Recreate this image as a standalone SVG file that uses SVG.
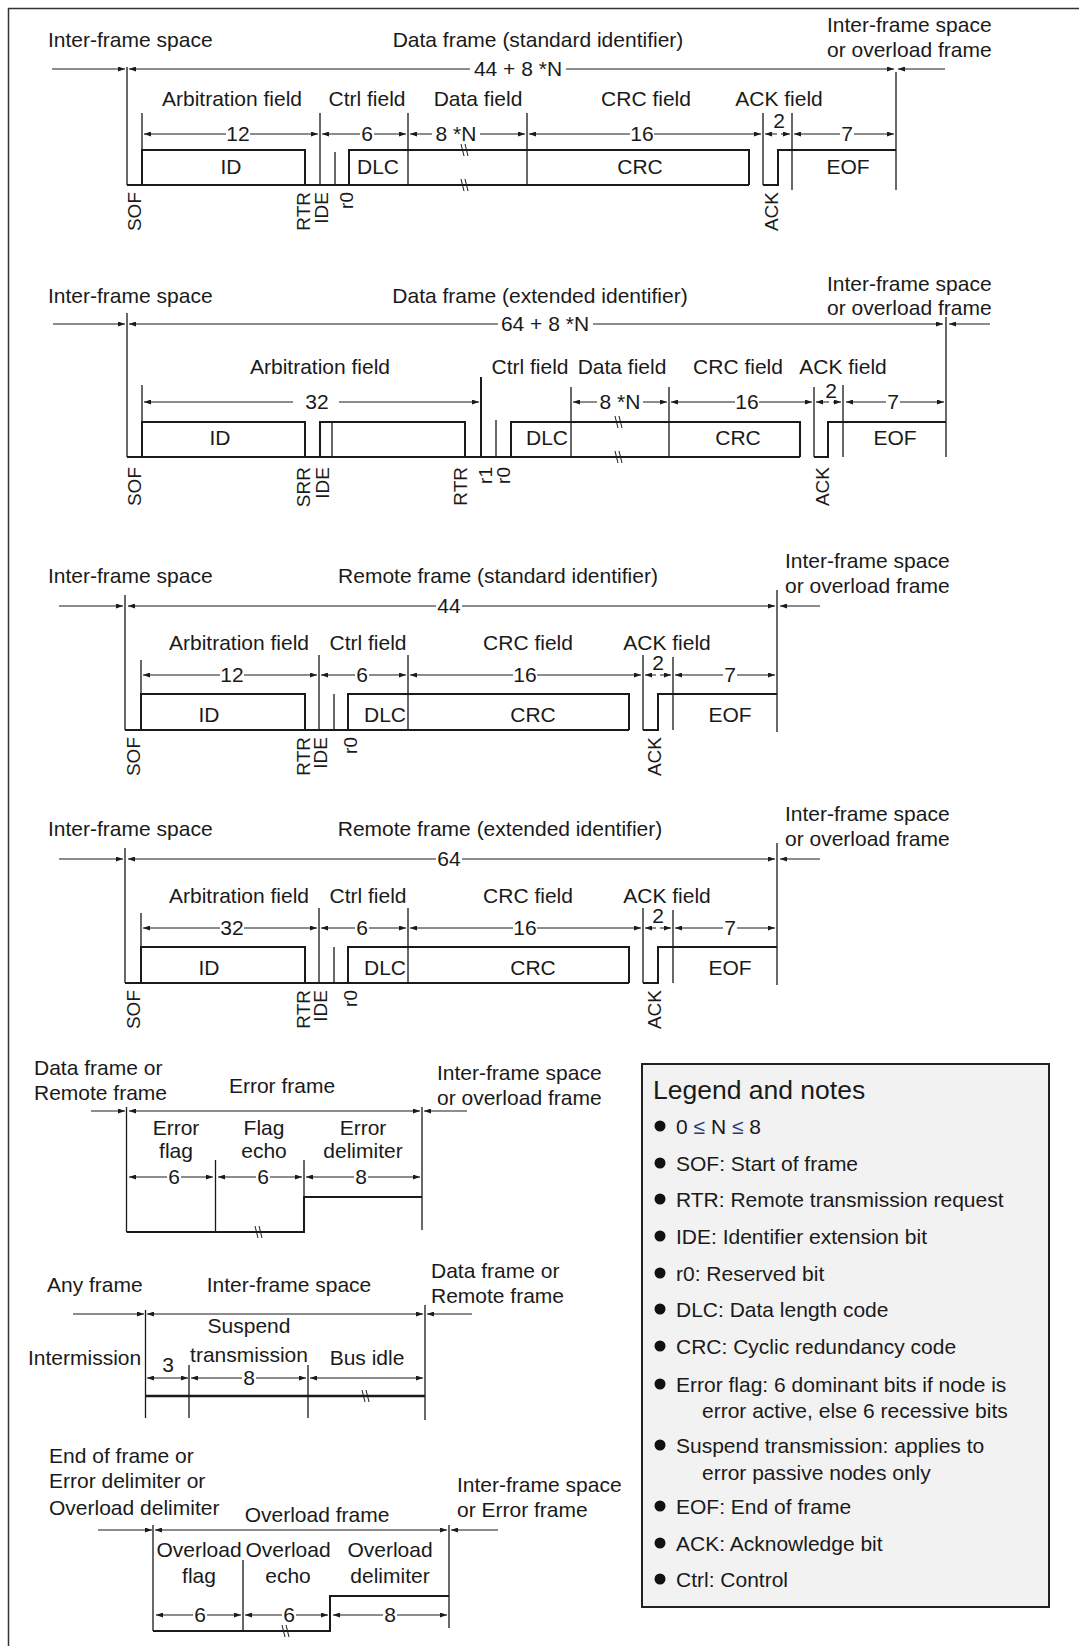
<svg xmlns="http://www.w3.org/2000/svg" width="1079" height="1646" viewBox="0 0 1079 1646">
<style>
text{font-family:"Liberation Sans",Arial,sans-serif;font-size:21px;fill:#1a1a1a}
.c{text-anchor:middle}
.r{font-size:19px;text-anchor:end}
.sig{stroke:#1a1a1a;stroke-width:2;fill:none}
.tk{stroke:#1a1a1a;stroke-width:1.3;fill:none}
.dim{stroke:#1a1a1a;stroke-width:1;fill:none;marker-end:url(#ah)}
.brk{stroke:#1a1a1a;stroke-width:1;fill:none}
.lt{font-size:26.5px}
.bul{fill:#111}
.leq{fill:#1f3d7a}
</style>
<defs>
<marker id="ah" markerUnits="userSpaceOnUse" markerWidth="7" markerHeight="5" refX="7" refY="2.5" orient="auto">
<path d="M0,0 L7,2.5 L0,5 z" fill="#1a1a1a"/>
</marker>
</defs>
<rect width="1079" height="1646" fill="#fff"/>
<rect x="8.5" y="8.5" width="1200" height="1700" fill="none" stroke="#333" stroke-width="1.5"/>

<g id="data-frame-standard">
<text x="48" y="47">Inter-frame space</text>
<text x="538" y="47" class="c">Data frame (standard identifier)</text>
<text x="827" y="32">Inter-frame space</text>
<text x="827" y="57">or overload frame</text>
<text x="518" y="76" class="c">44 + 8 *N</text>
<text x="232" y="106" class="c">Arbitration field</text>
<text x="367" y="106" class="c">Ctrl field</text>
<text x="478" y="106" class="c">Data field</text>
<text x="646" y="106" class="c">CRC field</text>
<text x="779" y="106" class="c">ACK field</text>
<text x="238" y="141" class="c">12</text>
<text x="367" y="141" class="c">6</text>
<text x="456" y="141" class="c">8 *N</text>
<text x="642" y="141" class="c">16</text>
<text x="779" y="128" class="c">2</text>
<text x="847" y="141" class="c">7</text>
<text x="231" y="174" class="c">ID</text>
<text x="378" y="174" class="c">DLC</text>
<text x="640" y="174" class="c">CRC</text>
<text x="848" y="174" class="c">EOF</text>
<text class="r" transform="translate(141,192) rotate(-90)">SOF</text>
<text class="r" transform="translate(310,192) rotate(-90)">RTR</text>
<text class="r" transform="translate(328,192) rotate(-90)">IDE</text>
<text class="r" transform="translate(353,192) rotate(-90)">r0</text>
<text class="r" transform="translate(778,192) rotate(-90)">ACK</text>
<path class="sig" d="M127,185 H749 M142,185 V150 H305 V185 M349,185 V150 H749 V185 M763,185 H778 V150 H896"/>
<path class="tk" d="M127,67 V185 M142,113 V150 M320,113 V185 M335,152 V185 M408,113 V185 M527,113 V185 M763,113 V185 M792,113 V190 M896,72 V190"/>
<path class="brk" d="M461,144 L464,156 M465,144 L468,156 M461,179 L464,191 M465,179 L468,191"/>
</g>

<g id="data-frame-extended">
<text x="48" y="303">Inter-frame space</text>
<text x="540" y="303" class="c">Data frame (extended identifier)</text>
<text x="827" y="291">Inter-frame space</text>
<text x="827" y="315">or overload frame</text>
<text x="545" y="331" class="c">64 + 8 *N</text>
<text x="320" y="374" class="c">Arbitration field</text>
<text x="530" y="374" class="c">Ctrl field</text>
<text x="622" y="374" class="c">Data field</text>
<text x="738" y="374" class="c">CRC field</text>
<text x="843" y="374" class="c">ACK field</text>
<text x="317" y="409" class="c">32</text>
<text x="620" y="409" class="c">8 *N</text>
<text x="747" y="409" class="c">16</text>
<text x="831" y="398" class="c">2</text>
<text x="893" y="409" class="c">7</text>
<text x="220" y="445" class="c">ID</text>
<text x="547" y="445" class="c">DLC</text>
<text x="738" y="445" class="c">CRC</text>
<text x="895" y="445" class="c">EOF</text>
<text class="r" transform="translate(141,467) rotate(-90)">SOF</text>
<text class="r" transform="translate(310,467) rotate(-90)">SRR</text>
<text class="r" transform="translate(329,467) rotate(-90)">IDE</text>
<text class="r" transform="translate(467,467) rotate(-90)">RTR</text>
<text class="r" transform="translate(492,467) rotate(-90)">r1</text>
<text class="r" transform="translate(510,467) rotate(-90)">r0</text>
<text class="r" transform="translate(829,467) rotate(-90)">ACK</text>
<path class="sig" d="M127,457 H800 M142,457 V422 H305 V457 M320,457 V422 H465 V457 M511,457 V422 H800 V457 M814,457 H828 V422 H946"/>
<path class="tk" d="M127,313 V457 M142,385 V422 M332,422 V457 M496,420 V457 M571,387 V457 M669,387 V457 M814,387 V457 M843,385 V457 M946,317 V457"/>
<path class="sig" d="M481,377 V457"/>
<path class="brk" d="M615,416 L618,428 M619,416 L622,428 M615,451 L618,463 M619,451 L622,463"/>
</g>

<g id="remote-frame-standard">
<text x="48" y="583">Inter-frame space</text>
<text x="498" y="583" class="c">Remote frame (standard identifier)</text>
<text x="785" y="568">Inter-frame space</text>
<text x="785" y="593">or overload frame</text>
<text x="449" y="613" class="c">44</text>
<text x="239" y="650" class="c">Arbitration field</text>
<text x="368" y="650" class="c">Ctrl field</text>
<text x="528" y="650" class="c">CRC field</text>
<text x="667" y="650" class="c">ACK field</text>
<text x="232" y="682" class="c">12</text>
<text x="362" y="682" class="c">6</text>
<text x="525" y="682" class="c">16</text>
<text x="658" y="670" class="c">2</text>
<text x="730" y="682" class="c">7</text>
<text x="209" y="722" class="c">ID</text>
<text x="385" y="722" class="c">DLC</text>
<text x="533" y="722" class="c">CRC</text>
<text x="730" y="722" class="c">EOF</text>
<text class="r" transform="translate(140,737) rotate(-90)">SOF</text>
<text class="r" transform="translate(310,737) rotate(-90)">RTR</text>
<text class="r" transform="translate(327,737) rotate(-90)">IDE</text>
<text class="r" transform="translate(357,737) rotate(-90)">r0</text>
<text class="r" transform="translate(661,737) rotate(-90)">ACK</text>
<path class="sig" d="M125,730 H629 M141,730 V694 H305 V730 M348,730 V694 H629 V730 M643,730 H658 V694 H777"/>
<path class="tk" d="M125,595 V730 M141,660 V694 M319,655 V730 M334,694 V730 M408,655 V730 M643,655 V730 M673,657 V730 M777,590 V732"/>
</g>

<g id="remote-frame-extended" transform="translate(0,253)">
<text x="48" y="583">Inter-frame space</text>
<text x="500" y="583" class="c">Remote frame (extended identifier)</text>
<text x="785" y="568">Inter-frame space</text>
<text x="785" y="593">or overload frame</text>
<text x="449" y="613" class="c">64</text>
<text x="239" y="650" class="c">Arbitration field</text>
<text x="368" y="650" class="c">Ctrl field</text>
<text x="528" y="650" class="c">CRC field</text>
<text x="667" y="650" class="c">ACK field</text>
<text x="232" y="682" class="c">32</text>
<text x="362" y="682" class="c">6</text>
<text x="525" y="682" class="c">16</text>
<text x="658" y="670" class="c">2</text>
<text x="730" y="682" class="c">7</text>
<text x="209" y="722" class="c">ID</text>
<text x="385" y="722" class="c">DLC</text>
<text x="533" y="722" class="c">CRC</text>
<text x="730" y="722" class="c">EOF</text>
<text class="r" transform="translate(140,737) rotate(-90)">SOF</text>
<text class="r" transform="translate(310,737) rotate(-90)">RTR</text>
<text class="r" transform="translate(327,737) rotate(-90)">IDE</text>
<text class="r" transform="translate(357,737) rotate(-90)">r0</text>
<text class="r" transform="translate(661,737) rotate(-90)">ACK</text>
<path class="sig" d="M125,730 H629 M141,730 V694 H305 V730 M348,730 V694 H629 V730 M643,730 H658 V694 H777"/>
<path class="tk" d="M125,595 V730 M141,660 V694 M319,655 V730 M334,694 V730 M408,655 V730 M643,655 V730 M673,657 V730 M777,590 V732"/>
</g>

<g id="error-frame">
<text x="34" y="1075">Data frame or</text>
<text x="34" y="1100">Remote frame</text>
<text x="282" y="1093" class="c">Error frame</text>
<text x="437" y="1080">Inter-frame space</text>
<text x="437" y="1105">or overload frame</text>
<text x="176" y="1135" class="c">Error</text>
<text x="176" y="1158" class="c">flag</text>
<text x="264" y="1135" class="c">Flag</text>
<text x="264" y="1158" class="c">echo</text>
<text x="363" y="1135" class="c">Error</text>
<text x="363" y="1158" class="c">delimiter</text>
<text x="174" y="1184" class="c">6</text>
<text x="263" y="1184" class="c">6</text>
<text x="361" y="1184" class="c">8</text>
<path class="sig" d="M126.5,1232 H304 V1197 H422"/>
<path class="tk" d="M126.5,1107 V1232 M215.5,1160 V1232 M304,1160 V1197 M422,1107 V1230"/>
<path class="brk" d="M255,1226 L258,1238 M259,1226 L262,1238"/>
</g>

<g id="inter-frame-space">
<text x="47" y="1292">Any frame</text>
<text x="289" y="1292" class="c">Inter-frame space</text>
<text x="431" y="1278">Data frame or</text>
<text x="431" y="1303">Remote frame</text>
<text x="249" y="1333" class="c">Suspend</text>
<text x="249" y="1362" class="c">transmission</text>
<text x="28" y="1365">Intermission</text>
<text x="168" y="1372" class="c">3</text>
<text x="367" y="1365" class="c">Bus idle</text>
<text x="249" y="1385" class="c">8</text>
<path class="sig" d="M145.5,1396 H425" style="stroke-width:2.5"/>
<path class="tk" d="M145.5,1310 V1418 M189,1365 V1418 M308,1365 V1418 M425,1305 V1420"/>
<path class="brk" d="M362,1390 L365,1402 M366,1390 L369,1402"/>
</g>

<g id="overload-frame">
<text x="49" y="1463">End of frame or</text>
<text x="49" y="1488">Error delimiter or</text>
<text x="49" y="1515">Overload delimiter</text>
<text x="317" y="1522" class="c">Overload frame</text>
<text x="457" y="1492">Inter-frame space</text>
<text x="457" y="1517">or Error frame</text>
<text x="199" y="1557" class="c">Overload</text>
<text x="288" y="1557" class="c">Overload</text>
<text x="390" y="1557" class="c">Overload</text>
<text x="199" y="1583" class="c">flag</text>
<text x="288" y="1583" class="c">echo</text>
<text x="390" y="1583" class="c">delimiter</text>
<text x="200" y="1622" class="c">6</text>
<text x="289" y="1622" class="c">6</text>
<text x="390" y="1622" class="c">8</text>
<path class="sig" d="M153,1631 H330 V1596 H449"/>
<path class="tk" d="M153,1525 V1631 M243,1560 V1631 M449,1525 V1628"/>
<path class="brk" d="M282,1625 L285,1637 M286,1625 L289,1637"/>
</g>

<g id="legend">
<rect x="642" y="1064" width="407" height="543" fill="#f2f2f2" stroke="#222" stroke-width="2"/>
<text x="653" y="1099" class="lt">Legend and notes</text>
<circle class="bul" cx="660" cy="1126" r="5.5"/>
<text x="676" y="1134">0 <tspan class="leq">≤</tspan> N <tspan class="leq">≤</tspan> 8</text>
<circle class="bul" cx="660" cy="1163" r="5.5"/>
<text x="676" y="1171">SOF: Start of frame</text>
<circle class="bul" cx="660" cy="1199" r="5.5"/>
<text x="676" y="1207">RTR: Remote transmission request</text>
<circle class="bul" cx="660" cy="1236" r="5.5"/>
<text x="676" y="1244">IDE: Identifier extension bit</text>
<circle class="bul" cx="660" cy="1273" r="5.5"/>
<text x="676" y="1281">r0: Reserved bit</text>
<circle class="bul" cx="660" cy="1309" r="5.5"/>
<text x="676" y="1317">DLC: Data length code</text>
<circle class="bul" cx="660" cy="1346" r="5.5"/>
<text x="676" y="1354">CRC: Cyclic redundancy code</text>
<circle class="bul" cx="660" cy="1384" r="5.5"/>
<text x="676" y="1392">Error flag: 6 dominant bits if node is</text>
<text x="702" y="1418">error active, else 6 recessive bits</text>
<circle class="bul" cx="660" cy="1445" r="5.5"/>
<text x="676" y="1453">Suspend transmission: applies to</text>
<text x="702" y="1480">error passive nodes only</text>
<circle class="bul" cx="660" cy="1506" r="5.5"/>
<text x="676" y="1514">EOF: End of frame</text>
<circle class="bul" cx="660" cy="1543" r="5.5"/>
<text x="676" y="1551">ACK: Acknowledge bit</text>
<circle class="bul" cx="660" cy="1579" r="5.5"/>
<text x="676" y="1587">Ctrl: Control</text>
</g>

<g id="connectors">
<path class="dim" d="M52,69 H125"/><path class="dim" d="M470,69 H129"/><path class="dim" d="M566,69 H894"/><path class="dim" d="M945,69 H898"/>
<path class="dim" d="M226,134 H144"/><path class="dim" d="M250,134 H318"/>
<path class="dim" d="M360,134 H322"/><path class="dim" d="M374,134 H406"/>
<path class="dim" d="M432,134 H410"/><path class="dim" d="M480,134 H525"/>
<path class="dim" d="M630,134 H529"/><path class="dim" d="M654,134 H761"/>
<path class="dim" d="M777,134 H765"/><path class="dim" d="M781,134 H790"/>
<path class="dim" d="M840,134 H794"/><path class="dim" d="M854,134 H894"/>

<path class="dim" d="M53,324 H125"/><path class="dim" d="M498,324 H129"/><path class="dim" d="M593,324 H943"/><path class="dim" d="M990,324 H949"/>
<path class="dim" d="M293,402 H144"/><path class="dim" d="M339,402 H479"/>
<path class="dim" d="M597,402 H573"/><path class="dim" d="M643,402 H667"/>
<path class="dim" d="M735,402 H671"/><path class="dim" d="M759,402 H812"/>
<path class="dim" d="M829,402 H816"/><path class="dim" d="M833,402 H841"/>
<path class="dim" d="M886,402 H846"/><path class="dim" d="M900,402 H944"/>

<path class="dim" d="M59,606 H123"/><path class="dim" d="M436,606 H128"/><path class="dim" d="M462,606 H775"/><path class="dim" d="M820,606 H780"/>
<path class="dim" d="M220,675 H143"/><path class="dim" d="M244,675 H317"/>
<path class="dim" d="M355,675 H321"/><path class="dim" d="M369,675 H406"/>
<path class="dim" d="M513,675 H410"/><path class="dim" d="M537,675 H641"/>
<path class="dim" d="M656,675 H645"/><path class="dim" d="M660,675 H671"/>
<path class="dim" d="M723,675 H675"/><path class="dim" d="M737,675 H775"/>

<path class="dim" d="M59,859 H123"/><path class="dim" d="M436,859 H128"/><path class="dim" d="M462,859 H775"/><path class="dim" d="M820,859 H780"/>
<path class="dim" d="M220,928 H143"/><path class="dim" d="M244,928 H317"/>
<path class="dim" d="M355,928 H321"/><path class="dim" d="M369,928 H406"/>
<path class="dim" d="M513,928 H410"/><path class="dim" d="M537,928 H641"/>
<path class="dim" d="M656,928 H645"/><path class="dim" d="M660,928 H671"/>
<path class="dim" d="M723,928 H675"/><path class="dim" d="M737,928 H775"/>

<path class="dim" d="M91,1111 H125"/><path class="dim" d="M275,1111 H129"/><path class="dim" d="M275,1111 H420"/><path class="dim" d="M467,1111 H424"/>
<path class="dim" d="M167,1177 H129"/><path class="dim" d="M181,1177 H213"/>
<path class="dim" d="M256,1177 H218"/><path class="dim" d="M270,1177 H302"/>
<path class="dim" d="M354,1177 H306"/><path class="dim" d="M368,1177 H420"/>

<path class="dim" d="M73,1314 H144"/><path class="dim" d="M285,1314 H147"/><path class="dim" d="M285,1314 H423"/><path class="dim" d="M472,1314 H427"/>
<path class="dim" d="M168,1378 H147"/><path class="dim" d="M168,1378 H188"/>
<path class="dim" d="M242,1378 H191"/><path class="dim" d="M256,1378 H306"/>
<path class="dim" d="M366,1378 H310"/><path class="dim" d="M366,1378 H423"/>

<path class="dim" d="M98,1530 H152"/><path class="dim" d="M300,1530 H155"/><path class="dim" d="M300,1530 H447"/><path class="dim" d="M498,1530 H451"/>
<path class="dim" d="M193,1615 H156"/><path class="dim" d="M207,1615 H241"/>
<path class="dim" d="M282,1615 H245"/><path class="dim" d="M296,1615 H328"/>
<path class="dim" d="M383,1615 H333"/><path class="dim" d="M397,1615 H447"/>
</g>
</svg>
